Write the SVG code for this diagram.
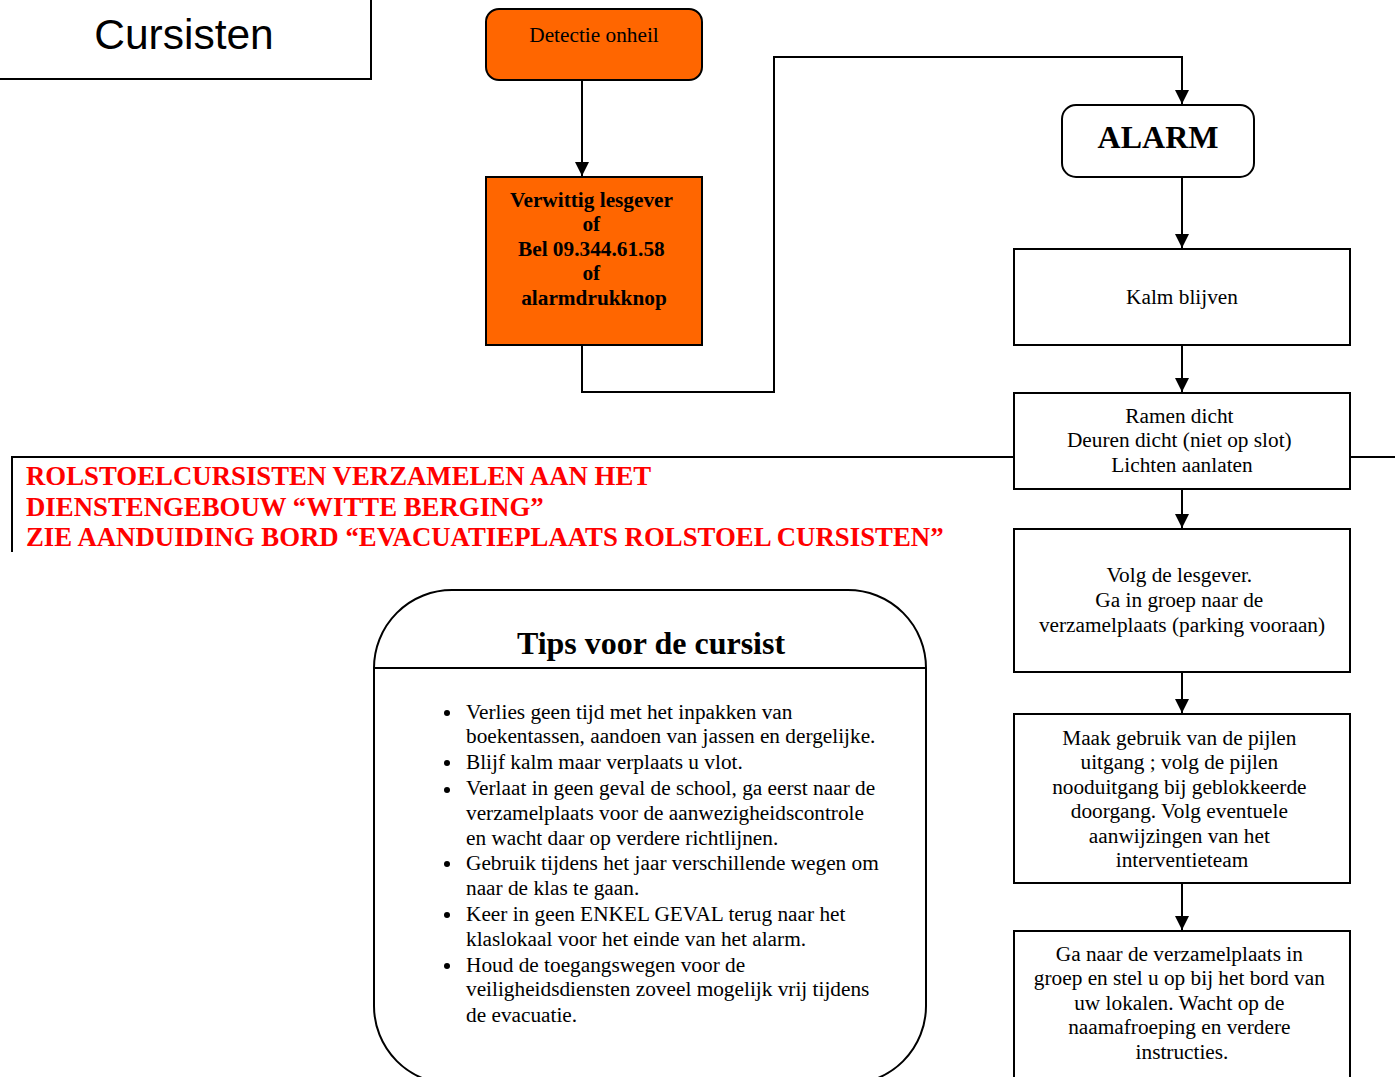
<svg xmlns="http://www.w3.org/2000/svg" width="1395" height="1077" viewBox="0 0 1395 1077">
<style>
.box{fill:#fff;stroke:#000;stroke-width:2}
.or{fill:#FF6600;stroke:#000;stroke-width:2}
.t{font-family:"Liberation Serif","Times New Roman",serif;font-size:21.3px;fill:#000;text-anchor:middle}
.b{font-weight:bold}
.tip{font-family:"Liberation Serif","Times New Roman",serif;font-size:21.3px;fill:#000}
.red{font-family:"Liberation Serif","Times New Roman",serif;font-size:26.8px;font-weight:bold;fill:#FF0000}
.ln{fill:none;stroke:#000;stroke-width:2}
</style>
<defs>
<marker id="ah" viewBox="0 0 14 14" refX="14" refY="7" markerWidth="14" markerHeight="14" markerUnits="userSpaceOnUse" orient="auto">
<path d="M0,0 L14,7 L0,14 Z" fill="#000"/>
</marker>
</defs>
<rect width="1395" height="1077" fill="#fff"/>

<g id="title">
<rect x="-2" y="-10" width="373" height="89" class="box"/>
<text x="184" y="49" style="font-family:'Liberation Sans',Arial,sans-serif;font-size:42.5px;text-anchor:middle">Cursisten</text>
</g>

<g id="connectors">
<line x1="582" y1="80" x2="582" y2="176" class="ln" marker-end="url(#ah)"/>
<polyline points="582,345 582,392 774,392 774,57 1182,57 1182,104" class="ln" marker-end="url(#ah)"/>
<line x1="1182" y1="177" x2="1182" y2="248" class="ln" marker-end="url(#ah)"/>
<line x1="1182" y1="345" x2="1182" y2="392" class="ln" marker-end="url(#ah)"/>
<line x1="1182" y1="489" x2="1182" y2="528" class="ln" marker-end="url(#ah)"/>
<line x1="1182" y1="672" x2="1182" y2="713" class="ln" marker-end="url(#ah)"/>
<line x1="1182" y1="883" x2="1182" y2="930" class="ln" marker-end="url(#ah)"/>
</g>

<g id="redframe">
<polyline points="12,552 12,457 1014,457" class="ln"/>
<line x1="1350" y1="457" x2="1395" y2="457" class="ln"/>
<text x="26" y="485" class="red">ROLSTOELCURSISTEN VERZAMELEN AAN HET</text>
<text x="26" y="516" class="red">DIENSTENGEBOUW “WITTE BERGING”</text>
<text x="26" y="546" class="red">ZIE AANDUIDING BORD “EVACUATIEPLAATS ROLSTOEL CURSISTEN”</text>
</g>

<g id="detectie">
<rect x="486" y="9" width="216" height="71" rx="13" class="or"/>
<text x="594" y="42" class="t">Detectie onheil</text>
</g>

<g id="verwittig">
<rect x="486" y="177" width="216" height="168" class="or"/>
<text class="t b">
<tspan x="594" y="207">Verwittig lesgever</tspan>
<tspan x="594" y="231">of</tspan>
<tspan x="594" y="256">Bel 09.344.61.58</tspan>
<tspan x="594" y="280">of</tspan>
<tspan x="594" y="305">alarmdrukknop</tspan>
</text>
</g>

<g id="alarm">
<rect x="1062" y="105" width="192" height="72" rx="14" class="box"/>
<text x="1158" y="148" class="t b" style="font-size:32px">ALARM</text>
</g>

<g id="kalm">
<rect x="1014" y="249" width="336" height="96" class="box"/>
<text x="1182" y="304" class="t">Kalm blijven</text>
</g>

<g id="ramen">
<rect x="1014" y="393" width="336" height="96" class="box"/>
<text class="t">
<tspan x="1182" y="423">Ramen dicht</tspan>
<tspan x="1182" y="447">Deuren dicht (niet op slot)</tspan>
<tspan x="1182" y="472">Lichten aanlaten</tspan>
</text>
</g>

<g id="volg">
<rect x="1014" y="529" width="336" height="143" class="box"/>
<text class="t">
<tspan x="1182" y="582">Volg de lesgever.</tspan>
<tspan x="1182" y="607">Ga in groep naar de</tspan>
<tspan x="1182" y="632">verzamelplaats (parking vooraan)</tspan>
</text>
</g>

<g id="maak">
<rect x="1014" y="714" width="336" height="169" class="box"/>
<text class="t">
<tspan x="1182" y="745">Maak gebruik van de pijlen</tspan>
<tspan x="1182" y="769">uitgang ; volg de pijlen</tspan>
<tspan x="1182" y="794">nooduitgang bij geblokkeerde</tspan>
<tspan x="1182" y="818">doorgang. Volg eventuele</tspan>
<tspan x="1182" y="843">aanwijzingen van het</tspan>
<tspan x="1182" y="867">interventieteam</tspan>
</text>
</g>

<g id="ganaar">
<rect x="1014" y="931" width="336" height="160" class="box"/>
<text class="t">
<tspan x="1182" y="961">Ga naar de verzamelplaats in</tspan>
<tspan x="1182" y="985">groep en stel u op bij het bord van</tspan>
<tspan x="1182" y="1010">uw lokalen. Wacht op de</tspan>
<tspan x="1182" y="1034">naamafroeping en verdere</tspan>
<tspan x="1182" y="1059">instructies.</tspan>
</text>
</g>

<g id="tips">
<rect x="374" y="590" width="552" height="494" rx="78" class="box"/>
<line x1="374" y1="668" x2="926" y2="668" class="ln"/>
<text x="651" y="654" class="t b" style="font-size:32px">Tips voor de cursist</text>
<g fill="#000">
<circle cx="447" cy="713" r="3"/>
<circle cx="447" cy="763" r="3"/>
<circle cx="447" cy="790" r="3"/>
<circle cx="447" cy="864" r="3"/>
<circle cx="447" cy="915" r="3"/>
<circle cx="447" cy="966" r="3"/>
</g>
<text class="tip">
<tspan x="466" y="719">Verlies geen tijd met het inpakken van</tspan>
<tspan x="466" y="743">boekentassen, aandoen van jassen en dergelijke.</tspan>
<tspan x="466" y="769">Blijf kalm maar verplaats u vlot.</tspan>
<tspan x="466" y="795">Verlaat in geen geval de school, ga eerst naar de</tspan>
<tspan x="466" y="820">verzamelplaats voor de aanwezigheidscontrole</tspan>
<tspan x="466" y="845">en wacht daar op verdere richtlijnen.</tspan>
<tspan x="466" y="870">Gebruik tijdens het jaar verschillende wegen om</tspan>
<tspan x="466" y="895">naar de klas te gaan.</tspan>
<tspan x="466" y="921">Keer in geen ENKEL GEVAL terug naar het</tspan>
<tspan x="466" y="946">klaslokaal voor het einde van het alarm.</tspan>
<tspan x="466" y="972">Houd de toegangswegen voor de</tspan>
<tspan x="466" y="996">veiligheidsdiensten zoveel mogelijk vrij tijdens</tspan>
<tspan x="466" y="1022">de evacuatie.</tspan>
</text>
</g>
</svg>
